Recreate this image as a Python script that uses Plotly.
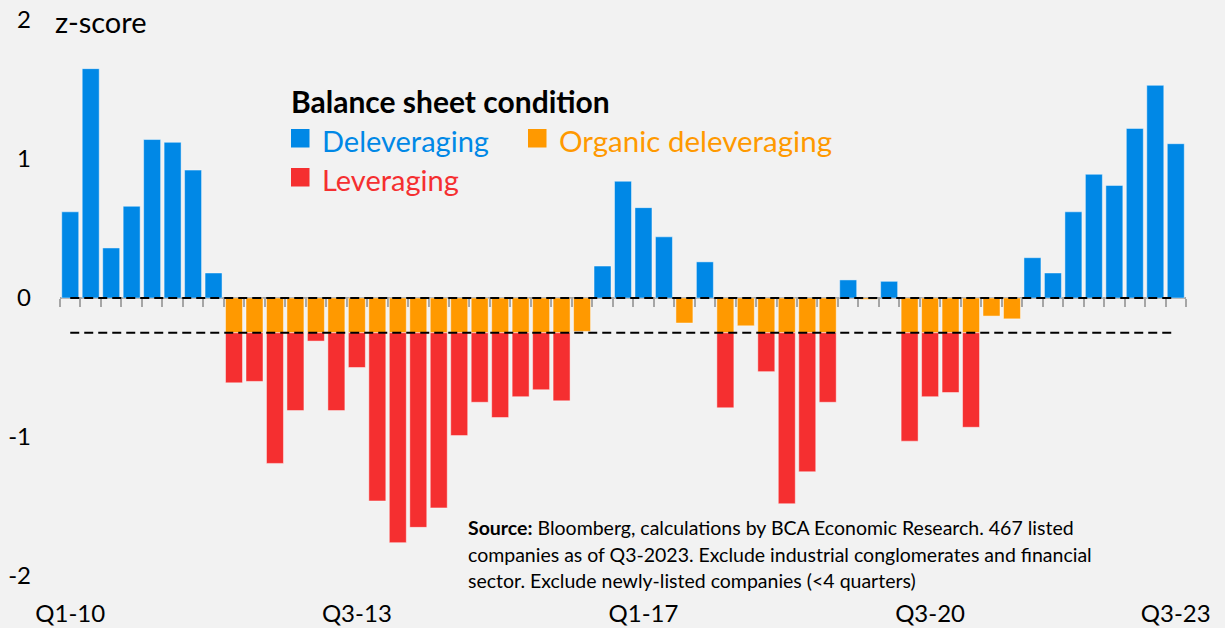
import plotly.graph_objects as go

# ---------------- data ----------------
quarters = [f"Q{q}-{y:02d}" for y in range(10, 24) for q in range(1, 5)][:55]
tick_labels = ["Q1-10", "Q3-13", "Q1-17", "Q3-20", "Q3-23"]
y_ticks = [-2, -1, 0, 1, 2]
y_tick_text = ["-2", "-1", "0", "1", "2"]
organic_threshold = -0.25

N = None
deleveraging = [0.62, 1.65, 0.36, 0.66, 1.14, 1.12, 0.92, 0.18,
                N, N, N, N, N, N, N, N, N, N, N, N, N, N, N, N, N, N,
                0.23, 0.84, 0.65, 0.44, N, 0.26,
                N, N, N, N, N, N, 0.13, N, 0.12,
                N, N, N, N, N, N,
                0.29, 0.18, 0.62, 0.89, 0.81, 1.22, 1.53, 1.11]
organic = [N, N, N, N, N, N, N, N,
           -0.25, -0.25, -0.25, -0.25, -0.25, -0.25, -0.25, -0.25, -0.25,
           -0.25, -0.25, -0.25, -0.25, -0.25, -0.25, -0.25, -0.25, -0.24,
           N, N, N, N, -0.18, N,
           -0.25, -0.20, -0.25, -0.25, -0.25, -0.25, N, -0.01, N,
           -0.25, -0.25, -0.25, -0.25, -0.13, -0.15,
           N, N, N, N, N, N, N, N]
leveraging = [N, N, N, N, N, N, N, N,
              -0.36, -0.35, -0.94, -0.56, -0.06, -0.56, -0.25, -1.21, -1.51,
              -1.40, -1.26, -0.74, -0.50, -0.61, -0.46, -0.41, -0.49, N,
              N, N, N, N, N, N,
              -0.54, N, -0.28, -1.23, -1.00, -0.50, N, N, N,
              -0.78, -0.46, -0.43, -0.68, N, N,
              N, N, N, N, N, N, N, N]

series_names = ["Deleveraging", "Organic deleveraging", "Leveraging"]
colors = {"Deleveraging": "#0088E6", "Organic deleveraging": "#FF9900", "Leveraging": "#F52F30"}

# ---------------- layout helpers ----------------
W, H = 1225, 628
ML, MR, MT, MB = 60, 39, 20, 52
PW, PH = W - ML - MR, H - MT - MB


def px(x):
    return (x - ML) / PW


def py(y):
    return (H - MB - y) / PH


FONT = "Lato"
fig = go.Figure()

for name, vals in zip(series_names, [deleveraging, organic, leveraging]):
    fig.add_trace(go.Bar(
        x=quarters, y=vals, name=name,
        marker=dict(color=colors[name], line=dict(color="rgba(255,255,255,0.45)", width=1)),
        showlegend=False, hoverinfo="x+y",
    ))

# dashed reference lines (zero and organic threshold) on overlay axis
for level in [0, organic_threshold]:
    fig.add_trace(go.Scatter(
        x=quarters, y=[level] * len(quarters), mode="lines",
        line=dict(color="black", width=2, dash="9px,5px"),
        xaxis="x2", showlegend=False, hoverinfo="skip",
    ))

fig.update_layout(
    width=W, height=H,
    margin=dict(l=ML, r=MR, t=MT, b=MB, autoexpand=False),
    paper_bgcolor="#F2F2F2", plot_bgcolor="#F2F2F2",
    barmode="relative", bargap=0.17,
    font=dict(family=FONT, color="black"),
    xaxis=dict(
        type="category", categoryorder="array", categoryarray=quarters,
        range=[-0.5, len(quarters) - 0.5], automargin=False,
        tickmode="array", tickvals=tick_labels, ticktext=tick_labels,
        ticks="", showline=False, showgrid=False, zeroline=False,
        tickfont=dict(size=24, family=FONT, color="black"),
        ticklabelstandoff=21,
    ),
    xaxis2=dict(
        type="category", categoryorder="array", categoryarray=quarters,
        overlaying="x", anchor="free", position=0.5, automargin=False,
        range=[-0.5, len(quarters) - 0.5], layer="below traces",
        showline=True, linecolor="#A6A6A6", linewidth=1.5,
        ticks="outside", ticklen=8, tickcolor="#A6A6A6", tickwidth=1.5,
        tickson="boundaries", tickmode="linear", tick0=0, dtick=1,
        showticklabels=False, showgrid=False, zeroline=False,
    ),
    yaxis=dict(
        range=[-2, 2], tickmode="array", tickvals=y_ticks, ticktext=y_tick_text,
        showgrid=False, zeroline=False, showline=False, ticks="", automargin=False,
        tickfont=dict(size=24, family=FONT, color="black"),
        ticklabelstandoff=28,
    ),
)

annotations = [
    dict(x=px(53), y=py(22), text="z-score", font=dict(size=29, color="black")),
    dict(x=px(289), y=py(101), text="<b>Balance sheet condition</b>", font=dict(size=30, color="black")),
    dict(x=px(320), y=py(140), text="Deleveraging", font=dict(size=29, color=colors["Deleveraging"])),
    dict(x=px(557), y=py(140), text="Organic deleveraging", font=dict(size=29.5, color=colors["Organic deleveraging"])),
    dict(x=px(320), y=py(179), text="Leveraging", font=dict(size=29, color=colors["Leveraging"])),
    dict(x=px(466), y=py(527), text="<b>Source:</b> Bloomberg, calculations by BCA Economic Research. 467 listed", font=dict(size=19.5, color="black")),
    dict(x=px(466), y=py(554), text="companies as of Q3-2023. Exclude industrial conglomerates and financial", font=dict(size=19.5, color="black")),
    dict(x=px(466), y=py(580), text="sector. Exclude newly-listed companies (<4 quarters)", font=dict(size=19.5, color="black")),
]
for a in annotations:
    fig.add_annotation(xref="paper", yref="paper", xanchor="left", yanchor="middle",
                       showarrow=False, **a)

squares = [("Deleveraging", 291, 129), ("Organic deleveraging", 528, 129), ("Leveraging", 291, 168)]
for name, x0, y0 in squares:
    fig.add_shape(type="rect", xref="paper", yref="paper",
                  x0=px(x0), x1=px(x0 + 18.5), y0=py(y0 + 18.5), y1=py(y0),
                  fillcolor=colors[name], line=dict(width=0))

fig.write_html(
    "out.html",
    config={"displayModeBar": False},
    post_script="document.body.style.margin='0';document.body.style.background='#F2F2F2';",
)
